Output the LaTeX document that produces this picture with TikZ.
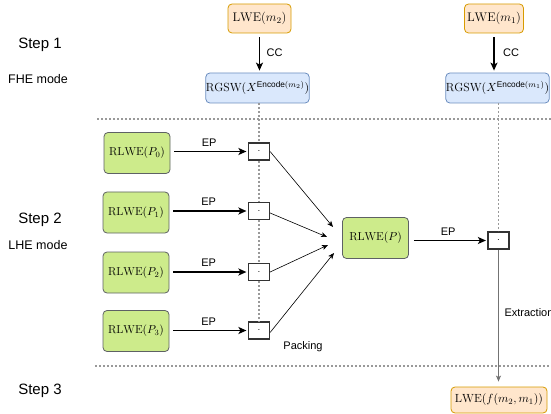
\RequirePackage{fix-cm}
\documentclass[tikz,border=0pt]{standalone}
\usepackage{amsmath}
\usepackage{fontspec}
\newfontfamily\hv{Liberation Sans}
\usetikzlibrary{arrows.meta}
\definecolor{orfill}{HTML}{FFE6CC}
\definecolor{ordraw}{HTML}{D79B00}
\definecolor{blfill}{HTML}{DAE8FC}
\definecolor{bldraw}{HTML}{6C8EBF}
\definecolor{grfill}{HTML}{CDEB8B}
\definecolor{grdraw}{HTML}{36393D}
\definecolor{dotgray}{HTML}{999999}
\begin{document}
\begin{tikzpicture}[x=1pt,y=-1pt,
  box/.style={rounded corners=4pt, line width=0.8pt, inner sep=0pt, align=center},
  lwebox/.style={box, draw=ordraw, fill=orfill, font=\fontsize{12.5}{14}\selectfont},
  rgswbox/.style={box, draw=bldraw, fill=blfill, minimum width=99pt, minimum height=30pt, font=\fontsize{11.8}{14}\selectfont},
  rlwebox/.style={box, draw=grdraw!80, fill=grfill, minimum width=66pt, minimum height=41pt, font=\fontsize{11.5}{13}\selectfont},
  dotbox/.style={draw=black!80, line width=1.2pt, fill=white, minimum width=21pt, minimum height=17pt, inner sep=0pt},
  eparrow/.style={line width=1.5pt, -{Stealth[length=8pt,width=7pt,inset=2pt]}},
  packarrow/.style={line width=0.6pt, -{Stealth[length=6pt,width=5pt,inset=1.5pt]}},
  extrarrow/.style={line width=1pt, draw=black!55, -{Stealth[length=6pt,width=5pt,inset=1.5pt]}},
  dotline/.style={draw=dotgray, line width=1.1pt, dash pattern=on 2pt off 2pt},
  steplabel/.style={font=\hv\fontsize{15}{17}\selectfont},
  modelabel/.style={font=\hv\fontsize{12.5}{14}\selectfont},
  smalllabel/.style={font=\hv\fontsize{11}{13}\selectfont},
]
\useasboundingbox (0,0) rectangle (551,414);

% left column labels
\node[steplabel] (step1) at (40,45) {Step 1};
\node[modelabel] (mode1) at (38,79) {FHE mode};
\node[steplabel] (step2) at (40,220) {Step 2};
\node[modelabel] (mode2) at (38,245) {LHE mode};
\node[steplabel] (step3) at (40,391) {Step 3};

% separators
\coordinate (h1a) at (97,119);
\coordinate (h1b) at (551,119);
\coordinate (h2a) at (95,366);
\coordinate (h2b) at (551,366);
\draw[dotline] (h1a) -- (h1b);
\draw[dotline] (h2a) -- (h2b);

% step 1
\node[lwebox, minimum width=63pt, minimum height=29pt] (lwe2) at (259.5,18.5) {$\mathrm{LWE}(m_2)$};
\node[lwebox, minimum width=59pt, minimum height=29pt] (lwe1) at (494,18.5) {$\mathrm{LWE}(m_1)$};
\node[rgswbox] (rgsw2) at (257.5,88) {$\mathrm{RGSW}(X^{\text{\hv Encode}(m_2)})$};
\node[rgswbox] (rgsw1) at (497.5,88) {$\mathrm{RGSW}(X^{\text{\hv Encode}(m_1)})$};
\draw[eparrow, shorten <=4pt, shorten >=2pt] (lwe2.south -| 259.5,0) -- (rgsw2.north -| 259.5,0) node[midway, right, smalllabel, xshift=3pt] (cc2) {CC};
\draw[eparrow, shorten <=4pt, shorten >=2pt] (lwe1.south -| 494,0) -- (rgsw1.north -| 494,0) node[midway, right, smalllabel, xshift=5pt] (cc1) {CC};

% step 2
\node[rlwebox] (p0) at (137,153) {$\mathrm{RLWE}(P_0)$};
\node[rlwebox] (p1) at (136,212.5) {$\mathrm{RLWE}(P_1)$};
\node[rlwebox] (p2) at (136,272.5) {$\mathrm{RLWE}(P_2)$};
\node[rlwebox] (p3) at (136,331) {$\mathrm{RLWE}(P_3)$};

\node[dotbox] (s0) at (259,151.5) {$\cdot$};
\node[dotbox] (s1) at (259,211) {$\cdot$};
\node[dotbox] (s2) at (259,272) {$\cdot$};
\node[dotbox] (s3) at (259,330.5) {$\cdot$};

\draw[dotline] (rgsw2.south -| s0.north) -- (s0.north);
\draw[dotline] (s0.south) -- (s1.north);
\draw[dotline] (s1.south) -- (s2.north);
\draw[dotline] (s2.south) -- (s3.north);

\foreach \i in {0,1,2,3}{
  \draw[eparrow, shorten <=4pt, shorten >=1.5pt] (p\i.east |- s\i.west) -- (s\i.west)
    node[midway, above, smalllabel, yshift=1pt] (ep\i) {EP};
}

\node[rlwebox] (pp) at (375.5,238) {$\mathrm{RLWE}(P)$};

\coordinate (t0) at (333,227);
\coordinate (t1) at (327,237);
\coordinate (t2) at (328,245);
\coordinate (t3) at (334,253);
\draw[packarrow] (s0.east) -- (t0);
\draw[packarrow] ([yshift=-2pt]s1.east) -- (t1);
\draw[packarrow] (s2.east) -- (t2);
\draw[packarrow] ([yshift=-2pt]s3.east) -- (t3);
\node[smalllabel] (packing) at (303,347) {Packing};

\node[dotbox] (r) at (498.5,240.5) {$\cdot$};
\draw[dotline] (rgsw1.south -| r.north) -- (r.north);
\draw[eparrow, shorten <=5pt, shorten >=1.5pt] (pp.east |- r.west) -- (r.west)
  node[midway, above, smalllabel, yshift=1pt] (epr) {EP};

% step 3
\node[lwebox, minimum width=96pt, minimum height=26pt, font=\fontsize{11.8}{13}\selectfont] (lwef) at (499,400) {$\mathrm{LWE}(f(m_2,m_1))$};
\draw[extrarrow, shorten >=5pt] (r.south) -- (r.south |- lwef.north);
\node[smalllabel, anchor=west] (extr) at (501,313) {Extraction};
\end{tikzpicture}
\end{document}
